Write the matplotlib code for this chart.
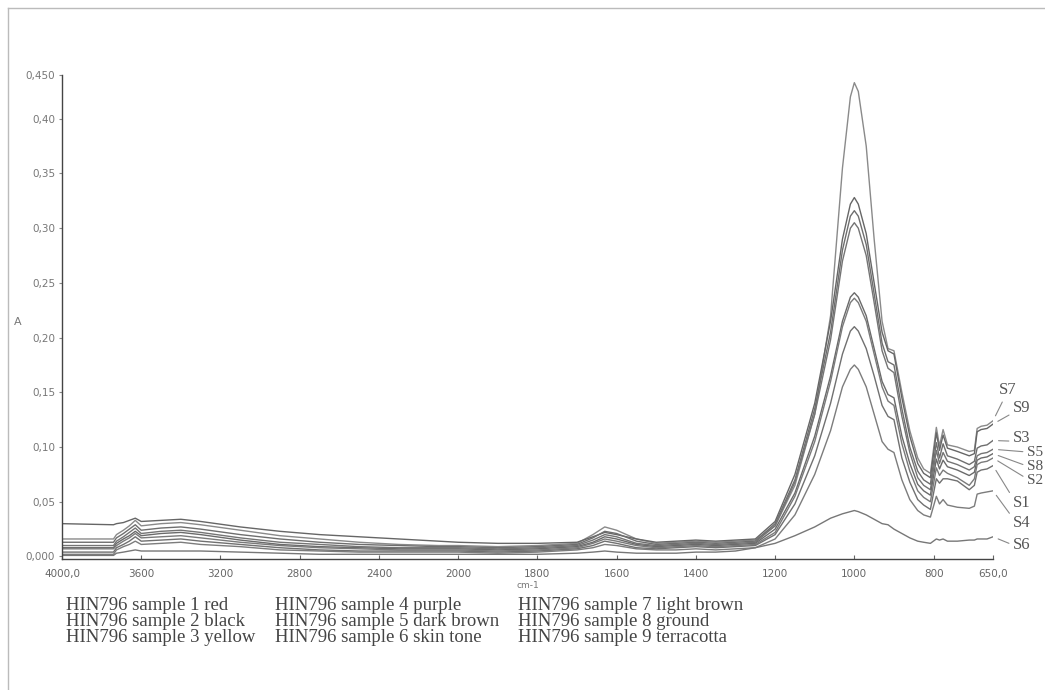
import numpy as np
import matplotlib
matplotlib.use("Agg")
import matplotlib.pyplot as plt
from matplotlib.lines import Line2D

# ---------------- data ----------------
wavenumber = [4000, 3740, 3725, 3690, 3660, 3630, 3600, 3500, 3400, 3300, 3100, 2900, 2700,
              2500, 2300, 2100, 2000, 1900, 1800, 1700, 1660, 1630, 1600, 1550, 1500, 1450,
              1400, 1350, 1300,
              1250, 1200, 1150, 1100, 1060, 1030, 1010, 1000, 990, 970, 950, 930, 915, 900,
              880, 860, 840, 825,
              808, 793, 785, 776, 765, 740, 710, 697, 690, 680, 665, 650]

s7 = [0.016, 0.016, 0.020, 0.024, 0.028, 0.033, 0.028, 0.030, 0.031, 0.029, 0.024, 0.019, 0.016,
      0.013, 0.011, 0.010, 0.010, 0.009, 0.010, 0.012, 0.020, 0.027, 0.024, 0.016, 0.012, 0.013,
      0.014, 0.013, 0.014,
      0.015, 0.028, 0.065, 0.130, 0.220, 0.355, 0.420, 0.433, 0.425, 0.375, 0.290, 0.215, 0.190,
      0.188, 0.150, 0.115, 0.090, 0.080,
      0.076, 0.118, 0.101, 0.116, 0.102, 0.100, 0.096, 0.097, 0.117, 0.119, 0.120, 0.124]
s9 = [0.030, 0.029, 0.030, 0.031, 0.033, 0.035, 0.032, 0.033, 0.034, 0.032, 0.027, 0.023, 0.020,
      0.018, 0.016, 0.014, 0.013, 0.012, 0.012, 0.013, 0.018, 0.022, 0.020, 0.016, 0.013, 0.014,
      0.015, 0.014, 0.015,
      0.016, 0.032, 0.075, 0.140, 0.215, 0.290, 0.322, 0.328, 0.322, 0.295, 0.250, 0.205, 0.188,
      0.185, 0.145, 0.110, 0.085, 0.076,
      0.072, 0.113, 0.097, 0.111, 0.099, 0.096, 0.092, 0.094, 0.114, 0.116, 0.117, 0.121]
s3 = [0.013, 0.013, 0.017, 0.021, 0.025, 0.029, 0.024, 0.026, 0.027, 0.025, 0.020, 0.016, 0.013,
      0.011, 0.010, 0.009, 0.009, 0.008, 0.009, 0.011, 0.017, 0.023, 0.021, 0.014, 0.011, 0.012,
      0.013, 0.012, 0.013,
      0.014, 0.030, 0.070, 0.135, 0.205, 0.280, 0.311, 0.316, 0.311, 0.285, 0.240, 0.195, 0.178,
      0.175, 0.135, 0.100, 0.078, 0.070,
      0.066, 0.104, 0.090, 0.103, 0.092, 0.089, 0.084, 0.087, 0.099, 0.101, 0.102, 0.106]
s5 = [0.010, 0.010, 0.014, 0.018, 0.022, 0.026, 0.021, 0.023, 0.024, 0.022, 0.017, 0.013, 0.011,
      0.009, 0.008, 0.008, 0.008, 0.007, 0.008, 0.010, 0.015, 0.020, 0.018, 0.012, 0.010, 0.011,
      0.012, 0.011, 0.012,
      0.013, 0.028, 0.068, 0.130, 0.198, 0.270, 0.300, 0.305, 0.300, 0.275, 0.232, 0.188, 0.172,
      0.168, 0.128, 0.095, 0.072, 0.065,
      0.061, 0.097, 0.085, 0.095, 0.087, 0.084, 0.079, 0.082, 0.092, 0.094, 0.095, 0.098]
s8 = [0.008, 0.008, 0.012, 0.016, 0.019, 0.023, 0.019, 0.021, 0.022, 0.020, 0.015, 0.011, 0.009,
      0.008, 0.007, 0.007, 0.007, 0.006, 0.007, 0.009, 0.013, 0.018, 0.016, 0.011, 0.009, 0.010,
      0.011, 0.010, 0.011,
      0.012, 0.025, 0.058, 0.110, 0.165, 0.215, 0.237, 0.241, 0.237, 0.220, 0.190, 0.160, 0.148,
      0.145, 0.110, 0.085, 0.066, 0.060,
      0.056, 0.089, 0.080, 0.088, 0.082, 0.079, 0.074, 0.077, 0.088, 0.090, 0.091, 0.094]
s2 = [0.007, 0.007, 0.010, 0.014, 0.017, 0.021, 0.017, 0.018, 0.019, 0.017, 0.013, 0.010, 0.008,
      0.007, 0.006, 0.006, 0.006, 0.005, 0.006, 0.008, 0.012, 0.016, 0.014, 0.010, 0.008, 0.009,
      0.010, 0.009, 0.010,
      0.011, 0.022, 0.055, 0.105, 0.160, 0.210, 0.232, 0.236, 0.232, 0.215, 0.185, 0.155, 0.142,
      0.138, 0.103, 0.078, 0.060, 0.054,
      0.050, 0.081, 0.074, 0.079, 0.076, 0.072, 0.065, 0.071, 0.084, 0.086, 0.087, 0.090]
s1 = [0.004, 0.004, 0.008, 0.011, 0.014, 0.018, 0.014, 0.015, 0.016, 0.014, 0.011, 0.008, 0.006,
      0.005, 0.005, 0.005, 0.005, 0.004, 0.005, 0.007, 0.010, 0.014, 0.012, 0.008, 0.007, 0.008,
      0.009, 0.008, 0.009,
      0.010, 0.020, 0.048, 0.092, 0.140, 0.185, 0.206, 0.210, 0.206, 0.190, 0.165, 0.138, 0.128,
      0.125, 0.090, 0.068, 0.052, 0.047,
      0.043, 0.071, 0.067, 0.071, 0.071, 0.069, 0.061, 0.065, 0.077, 0.079, 0.080, 0.083]
s4 = [0.002, 0.002, 0.006, 0.009, 0.011, 0.014, 0.011, 0.012, 0.013, 0.011, 0.009, 0.006, 0.005,
      0.004, 0.004, 0.004, 0.004, 0.003, 0.004, 0.006, 0.008, 0.011, 0.010, 0.007, 0.006, 0.006,
      0.007, 0.006, 0.007,
      0.008, 0.016, 0.038, 0.075, 0.115, 0.155, 0.171, 0.175, 0.171, 0.155, 0.130, 0.105, 0.098,
      0.095, 0.070, 0.052, 0.042, 0.038,
      0.036, 0.055, 0.048, 0.052, 0.047, 0.045, 0.044, 0.046, 0.057, 0.058, 0.059, 0.060]
s6 = [0.001, 0.001, 0.003, 0.004, 0.005, 0.006, 0.005, 0.005, 0.005, 0.005, 0.004, 0.003, 0.002,
      0.002, 0.002, 0.002, 0.002, 0.002, 0.002, 0.003, 0.004, 0.005, 0.004, 0.003, 0.003, 0.003,
      0.004, 0.004, 0.005,
      0.008, 0.012, 0.019, 0.027, 0.035, 0.039, 0.041, 0.042, 0.041, 0.038, 0.034, 0.030, 0.029,
      0.025, 0.021, 0.017, 0.014, 0.013,
      0.012, 0.016, 0.015, 0.016, 0.014, 0.014, 0.015, 0.015, 0.016, 0.016, 0.016, 0.018]

series_names = ["S7", "S9", "S3", "S5", "S8", "S2", "S1", "S4", "S6"]
series_values = [s7, s9, s3, s5, s8, s2, s1, s4, s6]

x_ticks = [4000, 3600, 3200, 2800, 2400, 2000, 1800, 1600, 1400, 1200, 1000, 800, 650]
x_ticklabels = ["4000,0", "3600", "3200", "2800", "2400", "2000", "1800", "1600", "1400",
                "1200", "1000", "800", "650,0"]
y_ticks = [0.0, 0.05, 0.10, 0.15, 0.20, 0.25, 0.30, 0.35, 0.40, 0.44]
y_ticklabels = ["0,000", "0,05", "0,10", "0,15", "0,20", "0,25", "0,30", "0,35", "0,40", "0,450"]

legend_lines = [
    ["HIN796 sample 1 red", "HIN796 sample 2 black", "HIN796 sample 3 yellow"],
    ["HIN796 sample 4 purple", "HIN796 sample 5 dark brown", "HIN796 sample 6 skin tone"],
    ["HIN796 sample 7 light brown", "HIN796 sample 8 ground", "HIN796 sample 9 terracotta"],
]

# ---------------- figure ----------------
W, H = 1045, 690
fig = plt.figure(figsize=(W / 100, H / 100), dpi=100)
fig.patch.set_facecolor("white")

x0, x1 = 62, 993
y_bot, y_top = 559, 75
ax = fig.add_axes([x0 / W, 1 - y_bot / H, (x1 - x0) / W, (y_bot - y_top) / H])


def fwd(x):
    x = np.asarray(x, dtype=float)
    return np.where(x >= 2000, 6.75 + (x - 2000) / 400.0, (x - 650) / 200.0)


def inv(u):
    u = np.asarray(u, dtype=float)
    return np.where(u >= 6.75, 2000 + (u - 6.75) * 400.0, 650 + u * 200.0)


ax.set_xscale("function", functions=(fwd, inv))
ax.set_xlim(4000, 650)
ax.set_ylim(-0.0023, 0.44)

line_colors = ["#8a8a8a", "#666666", "#6e6e6e", "#747474", "#6a6a6a", "#7a7a7a",
               "#707070", "#7c7c7c", "#777777"]
for vals, col in zip(series_values, line_colors):
    ax.plot(wavenumber, vals, color=col, lw=1.0)

# spines
for s in ["top", "right"]:
    ax.spines[s].set_visible(False)
ax.spines["left"].set_color("#444444")
ax.spines["bottom"].set_color("#444444")
ax.spines["left"].set_linewidth(1.0)
ax.spines["bottom"].set_linewidth(1.0)

ax.set_xticks(x_ticks)
ax.set_xticklabels(x_ticklabels)
ax.xaxis.set_minor_locator(matplotlib.ticker.NullLocator())
ax.set_yticks(y_ticks)
ax.set_yticklabels(y_ticklabels)
ax.tick_params(axis="x", direction="in", length=3, width=0.8, color="#666666",
               labelsize=7.5, labelcolor="#666666", pad=7)
ax.tick_params(axis="y", direction="out", length=2, width=0.8, color="#888888",
               labelsize=7.5, labelcolor="#777777", pad=3)

ax.set_xlabel("cm-1", fontsize=6.5, color="#777777", labelpad=2)
ax.set_ylabel("A", fontsize=8, color="#777777", rotation=0, labelpad=20, va="center")
ax.yaxis.set_label_coords(-0.048, 0.49)

# peak-end labels with leader lines (text placement in figure pixels)
label_pos = {
    "S7": (999, 300), "S9": (1013, 282), "S3": (1013, 252), "S5": (1027, 238),
    "S8": (1027, 224), "S2": (1027, 210), "S1": (1013, 187), "S4": (1013, 167),
    "S6": (1013, 145),
}
label_relpos = {
    "S7": (0.3, 0.0), "S9": (0.0, 0.2), "S3": (0.0, 0.3), "S5": (0.0, 0.5),
    "S8": (0.0, 0.5), "S2": (0.0, 0.6), "S1": (0.0, 0.8), "S4": (0.0, 0.8),
    "S6": (0.0, 0.5),
}
for name, vals in zip(series_names, series_values):
    size = 11 if name in ("S5", "S8", "S2") else 12
    ax.annotate(name, xy=(wavenumber[-1], vals[-1]), xycoords="data",
                xytext=label_pos[name], textcoords="figure pixels",
                fontsize=size, family="Liberation Serif", color="#555555",
                ha="left", va="center", annotation_clip=False,
                arrowprops=dict(arrowstyle="-", color="#888888", lw=0.8,
                                shrinkA=1, shrinkB=4, relpos=label_relpos[name]))

# sample legend (text block under the plot)
col_x = [66, 275, 518]
row_y = [605, 621, 637]
for cx, col in zip(col_x, legend_lines):
    for ry, txt in zip(row_y, col):
        fig.text(cx / W, 1 - ry / H, txt, fontsize=13.5, family="Liberation Serif",
                 color="#444444", ha="left", va="center")

# scanned page frame
fig.add_artist(Line2D([8 / W, 1.0], [1 - 8 / H, 1 - 8 / H], color="#bbbbbb", lw=1.0))
fig.add_artist(Line2D([8 / W, 8 / W], [1 - 8 / H, 0.0], color="#bbbbbb", lw=1.0))

fig.savefig("out.png", dpi=100, facecolor="white")
